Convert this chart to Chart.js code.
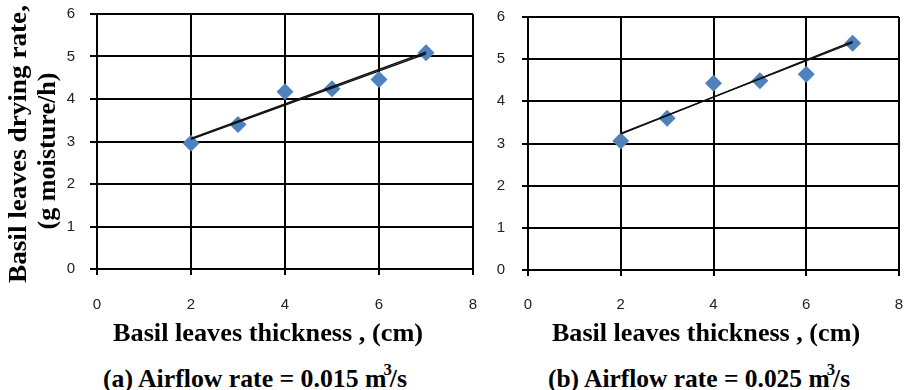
<!DOCTYPE html>
<html>
<head>
<meta charset="utf-8">
<script src="https://cdn.jsdelivr.net/npm/chart.js@4"></script>
<style>
    html, body { margin: 0; padding: 0; background: #fff; }
    #page { position: relative; width: 908px; height: 390px; overflow: hidden; }
    .chart-box { position: absolute; top: 0; height: 320px; }
    .lbl {
        position: absolute;
        font-family: "Liberation Serif", "DejaVu Serif", "Noto Serif", serif;
        font-weight: bold;
        font-size: 26px;
        line-height: 1;
        white-space: nowrap;
        color: #000;
    }
    .lbl sup { font-size: 17px; position: relative; top: -5px; margin: 0 -2px 0 -3px; vertical-align: top; }
</style>
</head>
<body>
<div id="page">
    <div class="chart-box" style="left:0;width:480px"><canvas id="chartA"></canvas></div>
    <div class="chart-box" style="left:480px;width:428px"><canvas id="chartB"></canvas></div>

    <div class="lbl" data-cx="18" data-cy="144" data-w="278" data-rot="1">Basil leaves drying rate,</div>
    <div class="lbl" data-cx="47" data-cy="151" data-w="157" data-rot="1">(g moisture/h)</div>

    <div class="lbl" data-cx="268" data-cy="333" data-w="310">Basil leaves thickness , (cm)</div>
    <div class="lbl" data-cx="706" data-cy="333" data-w="308">Basil leaves thickness , (cm)</div>

    <div class="lbl" data-cx="255" data-cy="379" data-w="304">(a) Airflow rate = 0.015 m<sup>3</sup>/s</div>
    <div class="lbl" data-cx="699" data-cy="379" data-w="302">(b) Airflow rate = 0.025 m<sup>3</sup>/s</div>
</div>

<script>
    // Values
    const thickness = [2, 3, 4, 5, 6, 7];
    const rateA = [2.96, 3.40, 4.17, 4.24, 4.46, 5.09];   // (a) 0.015 m3/s
    const rateB = [3.06, 3.60, 4.43, 4.49, 4.64, 5.38];   // (b) 0.025 m3/s

    // Trend lines (two nearly overlapping fits per panel), endpoints at x = 2 and x = 7
    const trendX = [2, 7];
    const trendA1 = [3.07, 5.10];
    const trendA2 = [3.05, 5.06];
    const trendB1 = [3.24, 5.39];
    const trendB2 = [3.22, 5.42];

    const xMin = 0, xMax = 8, xStep = 2;
    const yMin = 0, yMax = 6, yStep = 1;

    const lineColor = '#000';
    const pointColor = '#4F81BD';

    function pts(xs, ys) {
        return xs.map((x, i) => ({ x: x, y: ys[i] }));
    }

    function trendSet(ys) {
        return {
            type: 'line',
            data: pts(trendX, ys),
            borderColor: '#111',
            borderWidth: 1.4,
            pointRadius: 0,
            pointHoverRadius: 0,
            fill: false,
            order: 0
        };
    }

    // Build one panel; layout numbers place the plot box where the reference has it
    function makeChart(id, values, t1, t2, lay) {
        const ctx = document.getElementById(id).getContext('2d');
        return new Chart(ctx, {
            type: 'scatter',
            data: {
                datasets: [
                    trendSet(t1),
                    trendSet(t2),
                    {
                        data: pts(thickness, values),
                        pointStyle: 'rectRot',
                        pointRadius: 8.5,
                        pointBackgroundColor: pointColor,
                        pointBorderColor: pointColor,
                        pointBorderWidth: 0,
                        order: 1
                    }
                ]
            },
            options: {
                responsive: true,
                maintainAspectRatio: false,
                animation: false,
                layout: {
                    autoPadding: false,
                    padding: { top: lay.top, right: lay.right, left: 0, bottom: 0 }
                },
                plugins: { legend: { display: false }, tooltip: { enabled: false } },
                scales: {
                    x: {
                        type: 'linear',
                        min: xMin, max: xMax,
                        // fixed height; drop the label overhang so the plot box keeps its size
                        afterFit: s => { s.height = lay.xHeight; s.paddingLeft = 0; s.paddingRight = 0; },
                        ticks: {
                            stepSize: xStep,
                            color: '#222',
                            padding: lay.xPad,
                            font: { family: 'Liberation Sans', size: 15 }
                        },
                        grid: { color: lineColor, lineWidth: 2, tickLength: 6 },
                        border: { color: lineColor, width: 2 }
                    },
                    y: {
                        min: yMin, max: yMax,
                        afterFit: s => { s.width = lay.yWidth; s.paddingTop = 0; s.paddingBottom = 0; },
                        ticks: {
                            stepSize: yStep,
                            color: '#222',
                            padding: lay.yPad,
                            font: { family: 'Liberation Sans', size: 15 }
                        },
                        grid: { color: lineColor, lineWidth: 2, tickLength: lay.yTick },
                        border: { color: lineColor, width: 2 }
                    }
                }
            }
        });
    }

    makeChart('chartA', rateA, trendA1, trendA2,
        { top: 14, right: 7, xHeight: 51, yWidth: 97, xPad: 21, yPad: 15, yTick: 7 });
    makeChart('chartB', rateB, trendB1, trendB2,
        { top: 17, right: 9, xHeight: 50, yWidth: 48, xPad: 20, yPad: 17, yTick: 6 });

    // Place the bold titles and stretch them to the widths seen in the reference
    document.querySelectorAll('.lbl').forEach(el => {
        const w = el.getBoundingClientRect().width;
        const sx = (+el.dataset.w) / w;
        el.style.left = el.dataset.cx + 'px';
        el.style.top = el.dataset.cy + 'px';
        const rot = el.dataset.rot ? ' rotate(-90deg)' : '';
        el.style.transform = 'translate(-50%,-50%)' + rot + ' scaleX(' + sx.toFixed(3) + ')';
    });
</script>
</body>
</html>
